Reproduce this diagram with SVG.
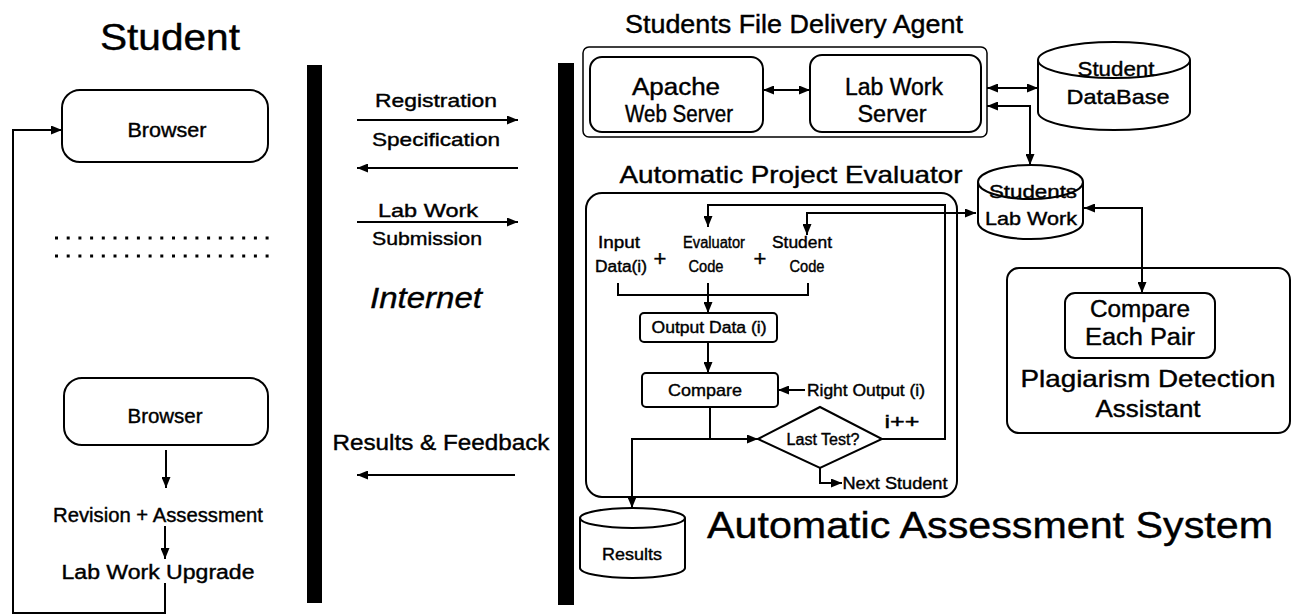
<svg xmlns="http://www.w3.org/2000/svg" width="1293" height="616" viewBox="0 0 1293 616">
<style>
text{font-family:"Liberation Sans",Arial,sans-serif;fill:#000;text-anchor:middle;stroke:#000;stroke-width:0.4}
.box{fill:#fff;stroke:#000;stroke-width:2}
.thin{fill:none;stroke:#000;stroke-width:1.5}
.ln{fill:none;stroke:#000;stroke-width:2}
.ar{marker-end:url(#ah)}
.ar2{marker-start:url(#ah);marker-end:url(#ah)}
.bar{fill:#000}
.dots{stroke:#000;stroke-width:3;stroke-dasharray:3 8.7;fill:none}
</style>
<defs>
<marker id="ah" markerUnits="userSpaceOnUse" markerWidth="11" markerHeight="9" refX="11" refY="4.5" orient="auto-start-reverse">
<path d="M0,0 L11,4.5 L0,9 z" fill="#000"/>
</marker>
</defs>
<rect width="1293" height="616" fill="#fff"/>

<g id="student-side">
<text x="170" y="50" font-size="37" textLength="140" lengthAdjust="spacingAndGlyphs">Student</text>
<path class="dots" d="M55,238 H270"/>
<path class="dots" d="M55,256 H270"/>
</g>
<g id="browser1">
<rect class="box" x="62" y="90" width="206" height="72" rx="18"/>
<text x="167" y="137" font-size="20" textLength="79" lengthAdjust="spacingAndGlyphs">Browser</text>
</g>
<g id="browser2">
<rect class="box" x="64" y="378" width="204" height="67" rx="18"/>
<text x="165" y="423" font-size="20" textLength="75" lengthAdjust="spacingAndGlyphs">Browser</text>
</g>
<g id="revision">
<text x="158" y="522" font-size="20" textLength="210" lengthAdjust="spacingAndGlyphs">Revision + Assessment</text>
</g>
<g id="upgrade">
<text x="158" y="579" font-size="20" textLength="193" lengthAdjust="spacingAndGlyphs">Lab Work Upgrade</text>
</g>

<g id="internet">
<rect class="bar" x="307" y="65" width="15" height="538"/>
<rect class="bar" x="558" y="63" width="16" height="542"/>
<text x="436" y="107" font-size="19" textLength="122" lengthAdjust="spacingAndGlyphs">Registration</text>
<text x="436" y="146" font-size="19" textLength="128" lengthAdjust="spacingAndGlyphs">Specification</text>
<text x="428" y="217" font-size="19" textLength="100" lengthAdjust="spacingAndGlyphs">Lab Work</text>
<text x="427" y="245" font-size="19" textLength="110" lengthAdjust="spacingAndGlyphs">Submission</text>
<text x="426" y="308" font-size="30" font-style="italic" textLength="112" lengthAdjust="spacingAndGlyphs" stroke-width="0.2">Internet</text>
<text x="441" y="450" font-size="22" textLength="217" lengthAdjust="spacingAndGlyphs">Results &amp; Feedback</text>
</g>

<g id="delivery-agent">
<text x="794" y="33" font-size="25" textLength="338" lengthAdjust="spacingAndGlyphs">Students File Delivery Agent</text>
<rect class="thin" x="583" y="47" width="404" height="90" rx="6"/>
</g>
<g id="apache">
<rect class="box" x="590" y="57" width="173" height="75" rx="12"/>
<text x="676" y="95" font-size="23" textLength="88" lengthAdjust="spacingAndGlyphs">Apache</text>
<text x="679" y="122" font-size="23" textLength="108" lengthAdjust="spacingAndGlyphs">Web Server</text>
</g>
<g id="labwork-server">
<rect class="box" x="810" y="55" width="171" height="77" rx="12"/>
<text x="894" y="95" font-size="23" textLength="98" lengthAdjust="spacingAndGlyphs">Lab Work</text>
<text x="892" y="122" font-size="23" textLength="69" lengthAdjust="spacingAndGlyphs">Server</text>
</g>
<g id="student-db">
<path class="box" d="M1038,60 V112 A76,18 0 0 0 1190,112 V60"/>
<ellipse class="box" cx="1114" cy="60" rx="76" ry="18"/>
<text x="1116" y="76" font-size="21" textLength="77" lengthAdjust="spacingAndGlyphs">Student</text>
<text x="1118" y="104" font-size="21" textLength="103" lengthAdjust="spacingAndGlyphs">DataBase</text>
</g>

<g id="evaluator">
<text x="791" y="183" font-size="24" textLength="343" lengthAdjust="spacingAndGlyphs">Automatic Project Evaluator</text>
<rect class="box" x="586" y="193" width="371" height="304" rx="16" fill="none"/>
<text x="619" y="248" font-size="16" textLength="42" lengthAdjust="spacingAndGlyphs">Input</text>
<text x="621" y="272" font-size="16" textLength="52" lengthAdjust="spacingAndGlyphs">Data(i)</text>
<text x="714" y="248" font-size="16" textLength="62" lengthAdjust="spacingAndGlyphs">Evaluator</text>
<text x="706" y="272" font-size="16" textLength="35" lengthAdjust="spacingAndGlyphs">Code</text>
<text x="802" y="248" font-size="16" textLength="60" lengthAdjust="spacingAndGlyphs">Student</text>
<text x="807" y="272" font-size="16" textLength="35" lengthAdjust="spacingAndGlyphs">Code</text>
<text x="660" y="266" font-size="22">+</text>
<text x="760" y="266" font-size="22">+</text>
</g>
<g id="output-data">
<rect class="box" x="640" y="313" width="137" height="29" rx="4"/>
<text x="709" y="333" font-size="16" textLength="115" lengthAdjust="spacingAndGlyphs">Output Data (i)</text>
</g>
<g id="compare">
<rect class="box" x="642" y="373" width="136" height="34" rx="4"/>
<text x="705" y="396" font-size="17" textLength="74" lengthAdjust="spacingAndGlyphs">Compare</text>
<text x="866" y="396" font-size="16" textLength="118" lengthAdjust="spacingAndGlyphs">Right Output (i)</text>
</g>
<g id="last-test">
<polygon class="box" points="758,439 820,407 882,439 820,468"/>
<text x="823" y="445" font-size="16" textLength="73" lengthAdjust="spacingAndGlyphs">Last Test?</text>
<text x="902" y="428" font-size="18" textLength="35" lengthAdjust="spacingAndGlyphs">i++</text>
<text x="895" y="489" font-size="16" textLength="105" lengthAdjust="spacingAndGlyphs">Next Student</text>
</g>
<g id="results">
<path class="box" d="M580,518 V568 A52.5,10 0 0 0 685,568 V518"/>
<ellipse class="box" cx="632.5" cy="518" rx="52.5" ry="10"/>
<text x="632" y="560" font-size="17" textLength="60" lengthAdjust="spacingAndGlyphs">Results</text>
</g>
<g id="students-labwork">
<path class="box" d="M978,182 V222 A52.5,17 0 0 0 1083,222 V182"/>
<ellipse class="box" cx="1030.5" cy="182" rx="52.5" ry="17"/>
<text x="1033" y="198" font-size="18" textLength="88" lengthAdjust="spacingAndGlyphs">Students</text>
<text x="1031" y="225" font-size="18" textLength="92" lengthAdjust="spacingAndGlyphs">Lab Work</text>
</g>
<g id="plagiarism">
<rect class="box" x="1007" y="268" width="283" height="165" rx="12"/>
<rect class="box" x="1065" y="293" width="150" height="65" rx="10"/>
<text x="1140" y="317" font-size="23" textLength="100" lengthAdjust="spacingAndGlyphs">Compare</text>
<text x="1140" y="345" font-size="23" textLength="110" lengthAdjust="spacingAndGlyphs">Each Pair</text>
<text x="1148" y="387" font-size="24" textLength="255" lengthAdjust="spacingAndGlyphs">Plagiarism Detection</text>
<text x="1148" y="417" font-size="24" textLength="105" lengthAdjust="spacingAndGlyphs">Assistant</text>
</g>
<g id="system-title">
<text x="990" y="538" font-size="37" textLength="566" lengthAdjust="spacingAndGlyphs" stroke-width="0.2">Automatic Assessment System</text>
</g>

<g id="connectors">
<path class="ln ar" d="M165,583 V613 H13 V130 H62"/>
<path class="ln ar" d="M166,450 V488"/>
<path class="ln ar" d="M165,526 V559"/>
<path class="ln ar" d="M357,120 H518"/>
<path class="ln ar" d="M518,168 H357"/>
<path class="ln ar" d="M357,222 H518"/>
<path class="ln ar" d="M515,475 H357"/>
<path class="ln ar2" d="M763,90 H810"/>
<path class="ln ar2" d="M987,88 H1038"/>
<path class="ln ar2" d="M1030,165 V106 H987"/>
<path class="ln ar" d="M882,439 H945 V205 H708 V227"/>
<path class="ln ar2" d="M976,213 H807 V235"/>
<path class="ln" d="M618,283 V295 H808 V283"/>
<path class="ln ar" d="M708,283 V313"/>
<path class="ln ar" d="M708,342 V373"/>
<path class="ln ar" d="M805,390 H778"/>
<path class="ln" d="M710,407 V439"/>
<path class="ln ar2" d="M632,508 V439 H758"/>
<path class="ln ar" d="M820,468 V483 H842"/>
<path class="ln ar2" d="M1084,208 H1142 V293"/>
</g>
</svg>
